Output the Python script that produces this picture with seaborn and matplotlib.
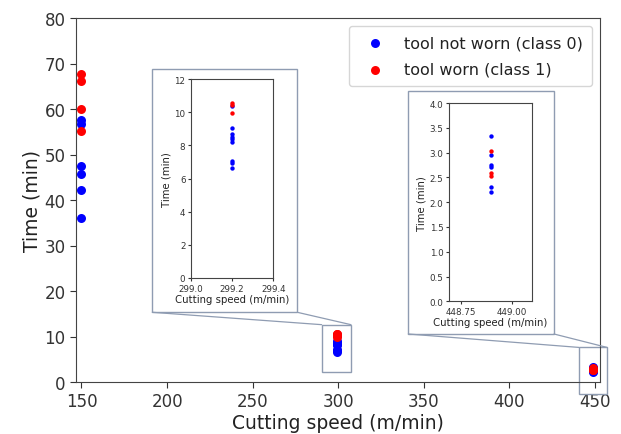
import numpy as np
import pandas as pd
import matplotlib
matplotlib.use("Agg")
import matplotlib.pyplot as plt
from matplotlib.patches import Rectangle, ConnectionPatch
import seaborn as sns

# ---- data -------------------------------------------------------------
speed_low = 150.0
speed_mid = 299.2
speed_high = 448.9

time_low_class0 = [36.1, 42.3, 45.7, 47.5, 56.7, 57.6]
time_low_class1 = [55.2, 60.1, 66.2, 67.65]

time_mid_class0 = [10.35, 9.07, 8.66, 8.52, 8.38, 8.22, 7.06, 6.93, 6.61]
time_mid_class1 = [10.55, 10.45, 9.95]

time_high_class0 = [3.33, 2.95, 2.75, 2.71, 2.31, 2.20]
time_high_class1 = [3.04, 2.59, 2.53]

label0 = "tool not worn (class 0)"
label1 = "tool worn (class 1)"

main_xticks = [150, 200, 250, 300, 350, 400, 450]
main_yticks = [0, 10, 20, 30, 40, 50, 60, 70, 80]
mid_xticks = [299.0, 299.2, 299.4]
mid_yticks = [0, 2, 4, 6, 8, 10, 12]
high_xticks = [448.75, 449.00]
high_yticks = [0.0, 0.5, 1.0, 1.5, 2.0, 2.5, 3.0, 3.5, 4.0]


def block(speed, t0, t1):
    return pd.DataFrame({
        "speed": [speed] * (len(t0) + len(t1)),
        "time": list(t0) + list(t1),
        "state": [label0] * len(t0) + [label1] * len(t1),
    })


df_low = block(speed_low, time_low_class0, time_low_class1)
df_mid = block(speed_mid, time_mid_class0, time_mid_class1)
df_high = block(speed_high, time_high_class0, time_high_class1)
df_all = pd.concat([df_low, df_mid, df_high], ignore_index=True)

palette = {label0: "blue", label1: "red"}
order = [label0, label1]

# ---- style ------------------------------------------------------------
sns.set_style("ticks")
plt.rcParams["font.family"] = ["DejaVu Sans"]
plt.rcParams["text.color"] = "#222222"
plt.rcParams["axes.labelcolor"] = "#222222"
plt.rcParams["xtick.color"] = "#333333"
plt.rcParams["ytick.color"] = "#333333"
plt.rcParams["axes.edgecolor"] = "#444444"

W, H = 621, 435
fig = plt.figure(figsize=(W / 100, H / 100), dpi=100)


def fx(px):
    return px / W


def fy(py):
    return 1 - py / H


ax = fig.add_axes([fx(76), fy(383), fx(600) - fx(76), fy(19) - fy(383)])


def draw(axis, data, size):
    # blue first, red on top
    for lab in order:
        sub = data[data["state"] == lab]
        sns.scatterplot(data=sub, x="speed", y="time", color=palette[lab],
                        s=size, linewidth=0, ax=axis, label=lab)


draw(ax, df_all, 42)
ax.set_xlim(146.8, 452.9)
ax.set_ylim(0, 80)
ax.set_xticks(main_xticks)
ax.set_yticks(main_yticks)
ax.tick_params(labelsize=12, length=4)
ax.set_xlabel("Cutting speed (m/min)", fontsize=13.5, labelpad=2)
ax.set_ylabel("Time (min)", fontsize=13.5, labelpad=2)
leg = ax.legend(loc="upper right", fontsize=11.5, handletextpad=0.8,
                borderpad=0.6, labelspacing=0.7)

# ---- zoomed views -----------------------------------------------------
edge = "#8f9cb2"


def inset(pos, data, xlim, ylim, xticks, yticks):
    a = fig.add_axes(pos)
    for lab in order:
        sub = data[data["state"] == lab]
        sns.scatterplot(data=sub, x="speed", y="time", color=palette[lab],
                        s=10, linewidth=0, ax=a, legend=False)
    a.set_xlim(*xlim)
    a.set_ylim(*ylim)
    a.set_xticks(xticks)
    a.set_yticks(yticks)
    a.tick_params(labelsize=6.3, length=2.5, pad=1.5)
    a.set_xlabel("Cutting speed (m/min)", fontsize=7.3, labelpad=1)
    a.set_ylabel("Time (min)", fontsize=7.3, labelpad=2)
    for s in a.spines.values():
        s.set_linewidth(0.8)
    return a


ax_mid = inset([fx(191), fy(279), fx(273.3) - fx(191), fy(80) - fy(279)],
               df_mid, (299.0, 299.4), (0, 12), mid_xticks, mid_yticks)
ax_mid.set_xticklabels(["299.0", "299.2", "299.4"])
ax_high = inset([fx(449), fy(302.3), fx(531.7) - fx(449), fy(104) - fy(302.3)],
                df_high, (448.69, 449.10), (0, 4.0), high_xticks, high_yticks)
ax_high.set_xticklabels(["448.75", "449.00"])


def frame(x0, y0, x1, y1):
    fig.patches.append(Rectangle((fx(x0), fy(y1)), fx(x1) - fx(x0), fy(y0) - fy(y1),
                                 transform=fig.transFigure, fill=False,
                                 edgecolor=edge, linewidth=1.0))


frame(152.3, 70, 297.3, 313.3)
frame(408.3, 91.7, 554, 335)

# marked regions on the main axes (data coordinates)
regions = [
    ((290.3, 2.1), 17.1, 10.5, (152.3, 313.3), (297.3, 313.3)),
    ((440.6, -2.6), 16.4, 10.2, (408.3, 335), (554, 335)),
]
for (x0, y0), w, h, pa, pb in regions:
    ax.add_patch(Rectangle((x0, y0), w, h, fill=False, edgecolor=edge,
                           linewidth=1.0, clip_on=False, zorder=1))
    for (px, py), corner in ((pa, (x0, y0 + h)), (pb, (x0 + w, y0 + h))):
        con = ConnectionPatch(xyA=(fx(px), fy(py)), coordsA=fig.transFigure,
                              xyB=corner, coordsB=ax.transData,
                              color=edge, linewidth=0.9)
        fig.add_artist(con)

fig.savefig("out.png", dpi=100)
